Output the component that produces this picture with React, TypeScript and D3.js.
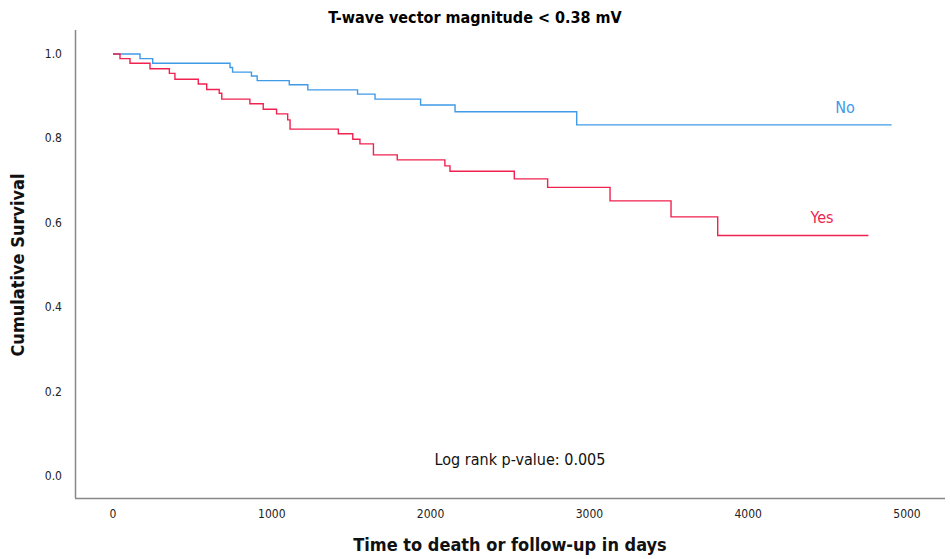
import { scaleLinear, line, curveStepAfter } from "d3";

const xTicks = [0, 1000, 2000, 3000, 4000, 5000];
const yTicks = [0, 0.2, 0.4, 0.6, 0.8, 1.0];

// [time, survival] after each step
const noCurve: [number, number][] = [
  [0, 1.0], [170, 0.989], [250, 0.978], [737, 0.968], [753, 0.957], [872, 0.948],
  [908, 0.937], [1110, 0.927], [1227, 0.915], [1540, 0.905], [1650, 0.893],
  [1937, 0.879], [2154, 0.863], [2920, 0.832], [4903, 0.832]
];
const yesCurve: [number, number][] = [
  [0, 1.0], [44, 0.989], [107, 0.978], [233, 0.965], [355, 0.954], [390, 0.94],
  [537, 0.929], [590, 0.916], [669, 0.907], [685, 0.893], [862, 0.882], [946, 0.869],
  [1030, 0.858], [1100, 0.844], [1115, 0.822], [1419, 0.811], [1510, 0.798],
  [1555, 0.787], [1640, 0.761], [1790, 0.749], [2090, 0.735], [2122, 0.722],
  [2527, 0.704], [2737, 0.684], [3130, 0.652], [3514, 0.614], [3808, 0.57], [4757, 0.57]
];

const blue = "#3f9ae8";
const red = "#f0224f";
const font = "'DejaVu Sans Condensed', 'DejaVu Sans', sans-serif";

export default function App() {
  const x = scaleLinear().domain([0, 5000]).range([113, 907]);
  const y = scaleLinear().domain([0, 1]).range([476, 54]);
  const path = line<[number, number]>().curve(curveStepAfter).x((d) => x(d[0])).y((d) => y(d[1]));

  return (
    <svg width={950} height={559} style={{ position: "absolute", left: 0, top: 0, background: "#fff" }} fontFamily={font}>
      <text x={475} y={23} textAnchor="middle" fontSize={16} fontWeight="bold">
        T-wave vector magnitude &lt; 0.38 mV
      </text>
      <line x1={75.5} x2={75.5} y1={30} y2={498} stroke="#888" strokeWidth={1.5} />
      <line x1={75} x2={945} y1={498.5} y2={498.5} stroke="#888" strokeWidth={1.5} />
      {yTicks.map((t) => (
        <text key={t} x={62} y={y(t) + 4} textAnchor="end" fontSize={12} fill="#222">
          {t.toFixed(1)}
        </text>
      ))}
      {xTicks.map((t) => (
        <text key={t} x={x(t)} y={518} textAnchor="middle" fontSize={12} fill="#222">
          {t}
        </text>
      ))}
      <path d={path(noCurve) ?? ""} fill="none" stroke={blue} strokeWidth={1.4} />
      <path d={path(yesCurve) ?? ""} fill="none" stroke={red} strokeWidth={1.4} />
      <text x={845} y={113} textAnchor="middle" fontSize={16} fill={blue}>No</text>
      <text x={822} y={223} textAnchor="middle" fontSize={16} fill={red}>Yes</text>
      <text x={520} y={465} textAnchor="middle" fontSize={16} fill="#111">Log rank p-value: 0.005</text>
      <text x={510} y={551} textAnchor="middle" fontSize={18} fontWeight="bold" fill="#111">
        Time to death or follow-up in days
      </text>
      <text transform="translate(24,265) rotate(-90)" textAnchor="middle" fontSize={18} fontWeight="bold" fill="#111">
        Cumulative Survival
      </text>
    </svg>
  );
}
